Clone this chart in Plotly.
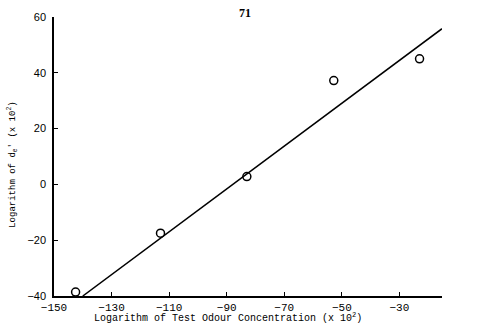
import plotly.graph_objects as go

# Data
conc_log = [-142.5, -113, -83, -52.8, -23]
de_log = [-38.6, -17.5, 2.8, 37.2, 45.0]

fit_x = [-140.0, -15.2]
fit_y = [-40.0, 55.8]

x_ticks = [-150, -130, -110, -90, -70, -50, -30]
y_ticks = [-40, -20, 0, 20, 40, 60]

mono = "Liberation Mono, Courier New, monospace"
sans = "Liberation Sans, Arial, sans-serif"

fig = go.Figure()
fig.add_trace(go.Scatter(x=fit_x, y=fit_y, mode="lines",
                         line=dict(color="black", width=1.5), showlegend=False))
fig.add_trace(go.Scatter(x=conc_log, y=de_log, mode="markers",
                         marker=dict(symbol="circle-open", size=8, color="black",
                                     line=dict(width=1.5, color="black")),
                         showlegend=False))

fig.update_layout(
    width=477, height=334,
    margin=dict(l=54, r=35, t=11, b=38),
    paper_bgcolor="white", plot_bgcolor="white",
    xaxis=dict(range=[-150, -15.2], tickvals=x_ticks, showgrid=False, zeroline=False,
               showline=True, linecolor="black", linewidth=1.5,
               ticks="inside", ticklen=4, tickcolor="black",
               tickfont=dict(family=mono, size=11, color="black")),
    yaxis=dict(range=[-40, 60], tickvals=y_ticks, showgrid=False, zeroline=False,
               showline=True, linecolor="black", linewidth=1.5,
               ticks="inside", ticklen=4, tickcolor="black",
               ticklabelstandoff=4,
               tickfont=dict(family=sans, size=11, color="black")),
    annotations=[
        dict(text="<b>71</b>", x=(245 - 54) / 388, y=1 + (11 - 7) / 285,
             xref="paper", yref="paper", showarrow=False, yanchor="middle",
             font=dict(family="Liberation Serif, serif", size=12, color="black")),
        dict(text="Logarithm of Test Odour Concentration (x 10<sup>2</sup>)",
             x=(228 - 54) / 388, y=-(318 - 296) / 285, xref="paper", yref="paper",
             xanchor="center", yanchor="middle", showarrow=False,
             font=dict(family=mono, size=10, color="black")),
        dict(text="Logarithm of d<sub>e</sub>' (x 10<sup>2</sup>)",
             x=-(54 - 13) / 388, y=(296 - 162) / 285, xref="paper", yref="paper",
             xanchor="center", yanchor="middle", textangle=-90, showarrow=False,
             font=dict(family=mono, size=9, color="black")),
    ],
)

fig.write_html("out.html")
